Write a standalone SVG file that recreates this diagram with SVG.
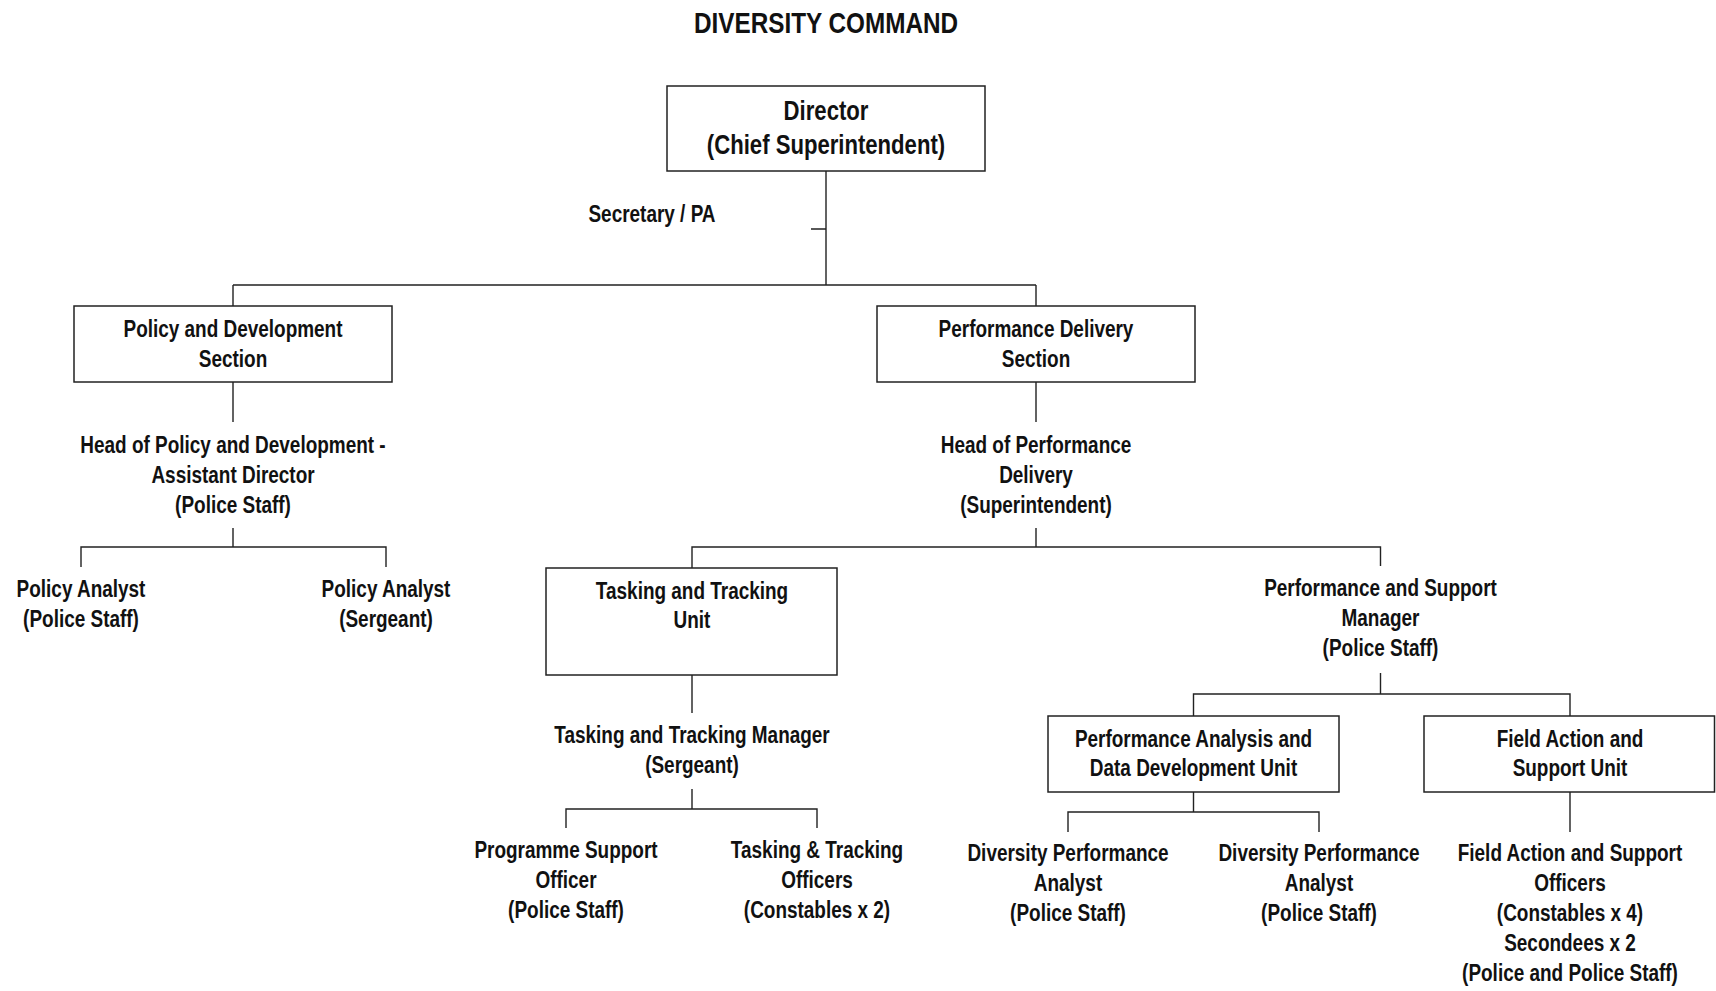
<svg xmlns="http://www.w3.org/2000/svg" width="1716" height="991" viewBox="0 0 1716 991">
<style>
text{font-family:"Liberation Sans",Arial,sans-serif;font-weight:bold;fill:#111;text-anchor:middle}
.t{font-size:24px}
.d{font-size:28px}
.h{font-size:30px}
rect{fill:#fff;stroke:#222;stroke-width:1.5}
.c path{fill:none;stroke:#222;stroke-width:1.4}
</style>
<rect x="0" y="0" width="1716" height="991" style="stroke:none;fill:#fff"/>
<g class="c" id="connectors">
<path d="M826 171V285M811 229H826M233 285H1036M233 285V306M1036 285V306"/>
<path d="M233 382V422M233 528V547M81 567V547H386V567"/>
<path d="M1036 382V422M1036 528V547M692 568V547H1380.5V566"/>
<path d="M692 675V713M692 789V809M566 828V809H817V828"/>
<path d="M1380.5 673V694M1193.5 716V694H1570V716"/>
<path d="M1193.5 792V812M1068 832V812H1319V832"/>
<path d="M1570 792V832"/>
</g>
<g id="title"><text class="h" transform="translate(826 0) scale(0.81 1)"><tspan x="0" y="33">DIVERSITY COMMAND</tspan></text></g>
<g id="director"><rect x="667" y="86" width="318" height="85"/><text class="d" transform="translate(826 0) scale(0.79 1)"><tspan x="0" y="120">Director</tspan><tspan x="0" y="154">(Chief Superintendent)</tspan></text></g>
<g id="secretary"><text class="t" transform="translate(652 0) scale(0.79 1)"><tspan x="0" y="222">Secretary / PA</tspan></text></g>
<g id="policy-section"><rect x="74" y="306" width="318" height="76"/><text class="t" transform="translate(233 0) scale(0.79 1)"><tspan x="0" y="337">Policy and Development</tspan><tspan x="0" y="367">Section</tspan></text></g>
<g id="head-policy"><text class="t" transform="translate(233 0) scale(0.79 1)"><tspan x="0" y="453">Head of Policy and Development -</tspan><tspan x="0" y="483">Assistant Director</tspan><tspan x="0" y="513">(Police Staff)</tspan></text></g>
<g id="policy-analyst-1"><text class="t" transform="translate(81 0) scale(0.79 1)"><tspan x="0" y="597">Policy Analyst</tspan><tspan x="0" y="627">(Police Staff)</tspan></text></g>
<g id="policy-analyst-2"><text class="t" transform="translate(386 0) scale(0.79 1)"><tspan x="0" y="597">Policy Analyst</tspan><tspan x="0" y="627">(Sergeant)</tspan></text></g>
<g id="perf-delivery"><rect x="877" y="306" width="318" height="76"/><text class="t" transform="translate(1036 0) scale(0.79 1)"><tspan x="0" y="337">Performance Delivery</tspan><tspan x="0" y="367">Section</tspan></text></g>
<g id="head-perf"><text class="t" transform="translate(1036 0) scale(0.79 1)"><tspan x="0" y="453">Head of Performance</tspan><tspan x="0" y="483">Delivery</tspan><tspan x="0" y="513">(Superintendent)</tspan></text></g>
<g id="tt-unit"><rect x="546" y="568" width="291" height="107"/><text class="t" transform="translate(692 0) scale(0.79 1)"><tspan x="0" y="599">Tasking and Tracking</tspan><tspan x="0" y="628">Unit</tspan></text></g>
<g id="tt-manager"><text class="t" transform="translate(692 0) scale(0.79 1)"><tspan x="0" y="743">Tasking and Tracking Manager</tspan><tspan x="0" y="773">(Sergeant)</tspan></text></g>
<g id="programme-support"><text class="t" transform="translate(566 0) scale(0.79 1)"><tspan x="0" y="858">Programme Support</tspan><tspan x="0" y="888">Officer</tspan><tspan x="0" y="918">(Police Staff)</tspan></text></g>
<g id="tt-officers"><text class="t" transform="translate(817 0) scale(0.79 1)"><tspan x="0" y="858">Tasking &amp; Tracking</tspan><tspan x="0" y="888">Officers</tspan><tspan x="0" y="918">(Constables x 2)</tspan></text></g>
<g id="perf-support-manager"><text class="t" transform="translate(1380.5 0) scale(0.79 1)"><tspan x="0" y="596">Performance and Support</tspan><tspan x="0" y="626">Manager</tspan><tspan x="0" y="656">(Police Staff)</tspan></text></g>
<g id="padd-unit"><rect x="1048" y="716" width="291" height="76"/><text class="t" transform="translate(1193.5 0) scale(0.79 1)"><tspan x="0" y="747">Performance Analysis and</tspan><tspan x="0" y="776">Data Development Unit</tspan></text></g>
<g id="field-unit"><rect x="1424" y="716" width="290.5" height="76"/><text class="t" transform="translate(1570 0) scale(0.79 1)"><tspan x="0" y="747">Field Action and</tspan><tspan x="0" y="776">Support Unit</tspan></text></g>
<g id="dpa-1"><text class="t" transform="translate(1068 0) scale(0.79 1)"><tspan x="0" y="861">Diversity Performance</tspan><tspan x="0" y="891">Analyst</tspan><tspan x="0" y="921">(Police Staff)</tspan></text></g>
<g id="dpa-2"><text class="t" transform="translate(1319 0) scale(0.79 1)"><tspan x="0" y="861">Diversity Performance</tspan><tspan x="0" y="891">Analyst</tspan><tspan x="0" y="921">(Police Staff)</tspan></text></g>
<g id="field-officers"><text class="t" transform="translate(1570 0) scale(0.79 1)"><tspan x="0" y="861">Field Action and Support</tspan><tspan x="0" y="891">Officers</tspan><tspan x="0" y="921">(Constables x 4)</tspan><tspan x="0" y="951">Secondees x 2</tspan><tspan x="0" y="981">(Police and Police Staff)</tspan></text></g>
</svg>
